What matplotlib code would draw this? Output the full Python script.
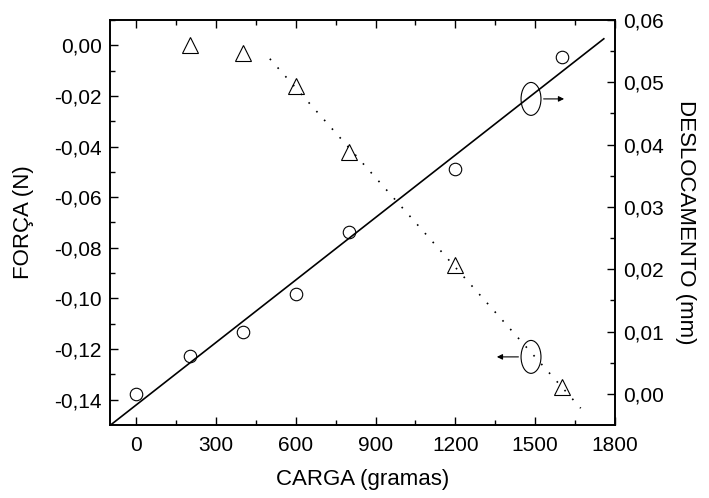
import numpy as np
import matplotlib
matplotlib.use("Agg")
import matplotlib.pyplot as plt
from matplotlib.patches import Ellipse

plt.rcParams['font.family'] = ['Liberation Sans', 'DejaVu Sans']

# Data
carga_forca = [200, 400, 600, 800, 1200, 1600]
forca = [0.000, -0.003, -0.016, -0.042, -0.087, -0.135]
carga_desl = [0, 200, 400, 600, 800, 1200, 1600]
deslocamento = [0.000, 0.006, 0.010, 0.016, 0.026, 0.036, 0.054]

xticks = [0, 300, 600, 900, 1200, 1500, 1800]
left_ticks = [0.00, -0.02, -0.04, -0.06, -0.08, -0.10, -0.12, -0.14]
right_ticks = [0.00, 0.01, 0.02, 0.03, 0.04, 0.05, 0.06]

def comma(v, nd=2):
    return f"{v:.{nd}f}".replace('.', ',')

fig = plt.figure(figsize=(7.09, 4.98), dpi=100)
ax = fig.add_axes([0.155, 0.1466, 0.712, 0.8134])
ax2 = ax.twinx()

# Force (left axis) - triangles and dotted fit over last points
ax.plot(carga_forca, forca, linestyle='none', marker='^', markersize=11.5,
        markerfacecolor='none', markeredgecolor='black', markeredgewidth=0.8)
fx = np.array(carga_forca[2:])
fy = np.array(forca[2:])
pf = np.polyfit(fx, fy, 1)
xf = np.linspace(502, 1672, 200)
ax.plot(xf, np.polyval(pf, xf), color='black', linestyle=(0, (1, 6)), linewidth=1.2)

# Displacement (right axis) - circles and solid fit
ax2.plot(carga_desl, deslocamento, linestyle='none', marker='o', markersize=9,
         markerfacecolor='none', markeredgecolor='black', markeredgewidth=0.8)
pd_ = np.polyfit(carga_desl, deslocamento, 1)
xd = np.linspace(-100, 1759, 200)
ax2.plot(xd, np.polyval(pd_, xd), color='black', linewidth=1.2)

ax.set_xticks(xticks)
ax.set_xticklabels([str(t) for t in xticks])
ax.set_xticks(np.arange(150, 1801, 300), minor=True)
ax.set_yticks(left_ticks)
ax.set_yticklabels([comma(t) for t in left_ticks])
ax.set_yticks(np.arange(-0.13, 0.0101, 0.02), minor=True)
ax2.set_yticks(right_ticks)
ax2.set_yticklabels([comma(t) for t in right_ticks])
ax2.set_yticks(np.arange(0.005, 0.0601, 0.01), minor=True)

ax.set_xlim(-100, 1800)
ax.set_ylim(-0.15, 0.01)
ax2.set_ylim(-0.005, 0.06)

for a in (ax, ax2):
    a.tick_params(which='both', direction='in', labelsize=15, width=1.0)
    a.tick_params(which='major', length=6)
    a.tick_params(which='minor', length=3.5)
    for s in a.spines.values():
        s.set_linewidth(1.2)
ax.tick_params(axis='x', which='both', top=True)
ax.tick_params(axis='x', pad=8)
ax.tick_params(axis='y', pad=6)
ax2.tick_params(axis='y', pad=6)

ax.set_xlabel('CARGA (gramas)', fontsize=16, labelpad=10)
ax.set_ylabel('FORÇA (N)', fontsize=16, labelpad=14)
ax2.set_ylabel('DESLOCAMENTO (mm)', fontsize=16, rotation=-90, labelpad=23)

# Ellipses with arrows (indicate axes)
e1 = Ellipse((1485, -0.0212), width=75, height=0.013, fill=False, edgecolor='black', linewidth=0.8)
ax.add_patch(e1)
ax.annotate('', xy=(1620, -0.0212), xytext=(1522, -0.0212),
            arrowprops=dict(arrowstyle='-|>', color='black', lw=0.8, mutation_scale=8))
e2 = Ellipse((1485, -0.1231), width=75, height=0.013, fill=False, edgecolor='black', linewidth=0.8)
ax.add_patch(e2)
ax.annotate('', xy=(1346, -0.1231), xytext=(1448, -0.1231),
            arrowprops=dict(arrowstyle='-|>', color='black', lw=0.8, mutation_scale=8))

fig.savefig('out.png', dpi=100)
